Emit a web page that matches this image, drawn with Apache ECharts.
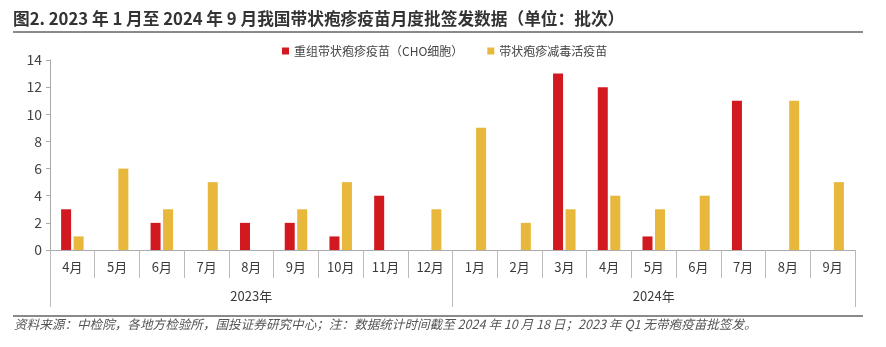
<!DOCTYPE html>
<html>
<head>
<meta charset="utf-8">
<script src="https://cdn.jsdelivr.net/npm/echarts@6/dist/echarts.min.js"></script>
<style>
html,body{margin:0;padding:0;background:#fff;}
#chart{width:886px;height:347px;}
</style>
</head>
<body>
<div id="chart"></div>
<script>
var months = ['4月','5月','6月','7月','8月','9月','10月','11月','12月','1月','2月','3月','4月','5月','6月','7月','8月','9月'];
var years = ['2023年','2024年'];
var recombinant = [3,0,2,0,2,2,1,4,0,0,0,13,12,1,0,11,0,0];
var liveAttenuated = [1,6,3,5,0,3,5,0,3,9,2,3,4,3,4,0,11,5];
var seriesNames = ['重组带状疱疹疫苗（CHO细胞）','带状疱疹减毒活疫苗'];
var yTicks = {min:0, max:14, interval:2};
var titleText = '图2. 2023 年 1 月至 2024 年 9 月我国带状疱疹疫苗月度批签发数据（单位：批次）';
var footText = '资料来源：中检院，各地方检验所，国投证券研究中心；注：数据统计时间截至 2024 年 10 月 18 日；2023 年 Q1 无带疱疫苗批签发。';

function nz(a){ return a.map(function(v){ return v === 0 ? '-' : v; }); }

var chart = echarts.init(document.getElementById('chart'));
var font = '"Noto Sans CJK SC", "Noto Sans", sans-serif';
chart.setOption({
  animation:false,
  textStyle:{fontFamily:font},
  graphic:[
    {type:'text', left:13, top:10, style:{text:titleText, font:'bold 16.7px ' + font, fill:'#333'}},
    {type:'rect', shape:{x:13, y:31, width:850, height:2}, style:{fill:'#8a8a8a'}},
    {type:'rect', shape:{x:13, y:315, width:850, height:2}, style:{fill:'#8a8a8a'}},
    {type:'text', left:14, top:318, style:{text:footText, font:'italic 12.6px ' + font, fill:'#555'}}
  ],
  legend:{
    left:277, top:40, itemWidth:7, itemHeight:7, itemGap:24, icon:'rect',
    textStyle:{fontSize:12, color:'#444', fontFamily:font}
  },
  grid:{left:50, right:31, top:60, bottom:97},
  xAxis:[
    {type:'category', data:months, gridIndex:0, position:'bottom',
     axisLine:{show:true, lineStyle:{color:'#aaa'}},
     axisTick:{show:true, length:28, lineStyle:{color:'#bbb', width:1}},
     axisLabel:{fontSize:13, color:'#3a3a3a', margin:11, interval:0}},
    {type:'category', data:years, gridIndex:0, position:'bottom',
     axisLine:{show:false},
     axisTick:{show:true, length:57, lineStyle:{color:'#bbb', width:1}},
     axisLabel:{fontSize:13, color:'#3a3a3a', margin:40}}
  ],
  yAxis:{type:'value', min:yTicks.min, max:yTicks.max, interval:yTicks.interval,
    axisLine:{show:true, lineStyle:{color:'#aaa'}},
    axisTick:{show:true, length:4, lineStyle:{color:'#aaa'}},
    splitLine:{show:false},
    axisLabel:{fontSize:14, color:'#444', margin:8}},
  series:[
    {name:seriesNames[0], type:'bar', xAxisIndex:0, data:nz(recombinant), barWidth:10, barGap:'25%', itemStyle:{color:'#D2191F'}},
    {name:seriesNames[1], type:'bar', xAxisIndex:0, data:nz(liveAttenuated), barWidth:10, barGap:'25%', itemStyle:{color:'#E8B83C'}}
  ]
});
</script>
</body>
</html>
